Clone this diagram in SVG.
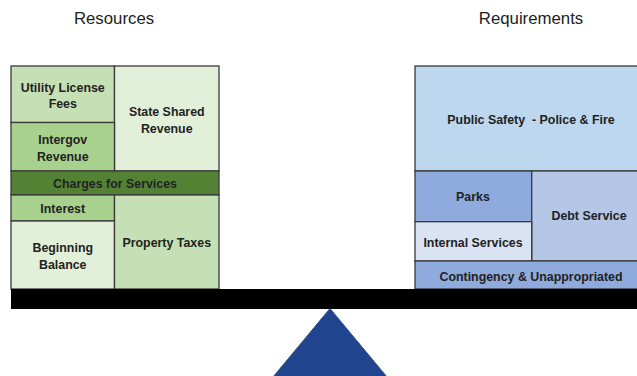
<svg xmlns="http://www.w3.org/2000/svg" width="637" height="376" viewBox="0 0 637 376">
  <style>
    .cell { stroke: #3a3a3a; stroke-width: 1.3; }
    .lbl { font-family: "Liberation Sans", Arial, sans-serif; font-weight: bold; font-size: 12.4px; fill: #222; text-anchor: middle; white-space: pre; }
    .head { font-family: "Liberation Sans", Arial, sans-serif; font-size: 16.8px; fill: #222; text-anchor: middle; }
    .g1 { fill: #c5e0b4; }
    .g2 { fill: #e2f0d9; }
    .g3 { fill: #a9d18e; }
    .g4 { fill: #548235; }
    .b1 { fill: #bdd7ee; }
    .b2 { fill: #8faadc; }
    .b3 { fill: #b4c7e7; }
    .b4 { fill: #dae3f3; }
  </style>

  <!-- column headings -->
  <text class="head" x="114" y="24">Resources</text>
  <text class="head" x="531" y="24">Requirements</text>

  <!-- left pan: resources -->
  <g id="utility-license-fees">
    <rect class="cell g1" x="11" y="66" width="103.5" height="56.5"/>
    <text class="lbl" x="62.75" y="92">Utility License</text>
    <text class="lbl" x="62.75" y="108">Fees</text>
  </g>
  <g id="state-shared-revenue">
    <rect class="cell g2" x="114.5" y="66" width="104.5" height="105"/>
    <text class="lbl" x="166.75" y="116">State Shared</text>
    <text class="lbl" x="166.75" y="132.5">Revenue</text>
  </g>
  <g id="intergov-revenue">
    <rect class="cell g3" x="11" y="122.5" width="103.5" height="48.5"/>
    <text class="lbl" x="62.75" y="144">Intergov</text>
    <text class="lbl" x="62.75" y="160.5">Revenue</text>
  </g>
  <g id="charges-for-services">
    <rect class="cell g4" x="11" y="171" width="208" height="24"/>
    <text class="lbl" x="115" y="188">Charges for Services</text>
  </g>
  <g id="interest">
    <rect class="cell g3" x="11" y="195" width="103.5" height="26"/>
    <text class="lbl" x="62.75" y="213">Interest</text>
  </g>
  <g id="beginning-balance">
    <rect class="cell g2" x="11" y="221" width="103.5" height="68"/>
    <text class="lbl" x="62.75" y="251.5">Beginning</text>
    <text class="lbl" x="62.75" y="269">Balance</text>
  </g>
  <g id="property-taxes">
    <rect class="cell g1" x="114.5" y="195" width="104.5" height="94"/>
    <text class="lbl" x="166.75" y="247">Property Taxes</text>
  </g>

  <!-- right pan: requirements -->
  <g id="public-safety">
    <rect class="cell b1" x="415" y="66" width="232" height="105"/>
    <text class="lbl" x="531" y="124" xml:space="preserve">Public Safety  - Police &amp; Fire</text>
  </g>
  <g id="parks">
    <rect class="cell b2" x="415" y="171" width="116.7" height="50.7"/>
    <text class="lbl" x="473" y="201">Parks</text>
  </g>
  <g id="debt-service">
    <rect class="cell b3" x="531.7" y="171" width="115.3" height="90"/>
    <text class="lbl" x="589" y="220">Debt Service</text>
  </g>
  <g id="internal-services">
    <rect class="cell b4" x="415" y="221.7" width="116.7" height="39.3"/>
    <text class="lbl" x="473" y="246.5">Internal Services</text>
  </g>
  <g id="contingency">
    <rect class="cell b2" x="415" y="261" width="232" height="28"/>
    <text class="lbl" x="531" y="281">Contingency &amp; Unappropriated</text>
  </g>

  <!-- balance beam and fulcrum -->
  <g id="scale">
    <rect x="11" y="289" width="630" height="20" fill="#000"/>
    <polygon points="330,308.5 273,377 387,377" fill="#21448f" stroke="#2f4f8a" stroke-width="1"/>
  </g>
</svg>
